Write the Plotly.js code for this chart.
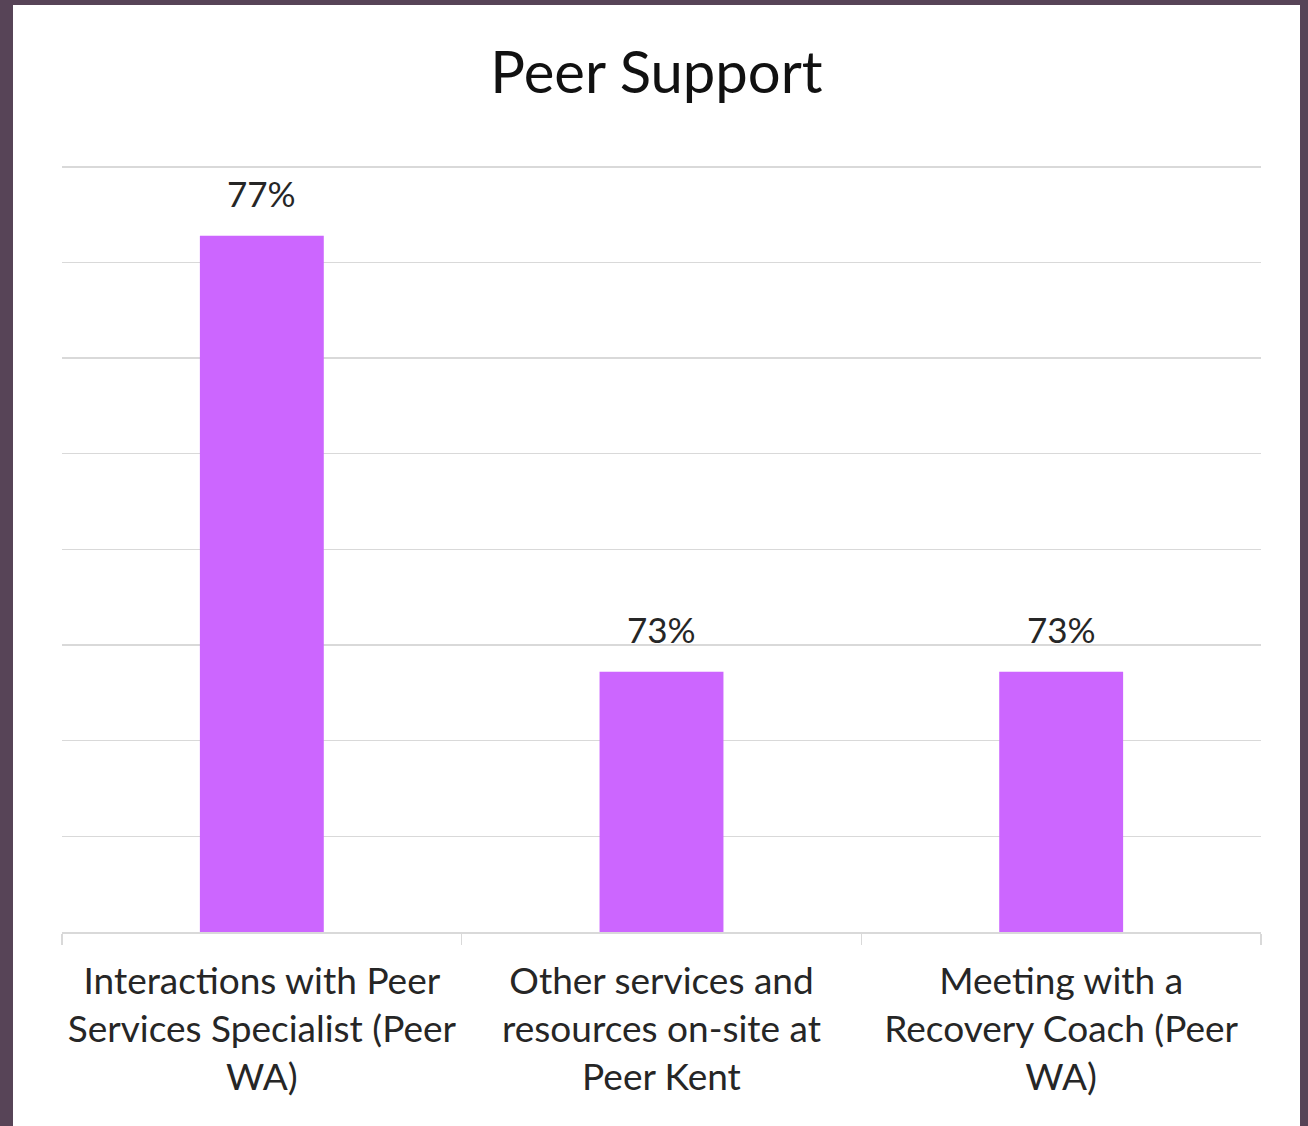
<!DOCTYPE html>
<html>
<head>
<meta charset="utf-8">
<script src="https://cdn.plot.ly/plotly-3.0.1.min.js"></script>
<style>
  html, body { margin: 0; padding: 0; background: #574457; width: 1308px; height: 1126px; overflow: hidden; }
  #chart { position: absolute; left: 13px; top: 5px; width: 1287px; height: 1121px; background: #fff; }
</style>
</head>
<body>
<div id="chart"></div>
<script>
const categories = [
  "Interactions with Peer<br>Services Specialist (Peer<br>WA)",
  "Other services and<br>resources on-site at<br>Peer Kent",
  "Meeting with a<br>Recovery Coach (Peer<br>WA)"
];
const values = [77.28, 72.72, 72.72];
const valueLabels = values.map(v => Math.round(v) + "%");
const chartTitle = "Peer Support";

const FONT = "Lato, sans-serif";

const trace = {
  type: "bar",
  x: categories,
  y: values,
  marker: { color: "#cc66ff" },
  width: 0.31,
  hoverinfo: "skip"
};

const annotations = categories.map((c, i) => ({
  x: c, y: values[i], xref: "x", yref: "y",
  text: valueLabels[i], showarrow: false,
  yanchor: "bottom", yshift: 20,
  font: { family: FONT, size: 35, color: "#262626" }
}));

const layout = {
  width: 1287, height: 1121,
  paper_bgcolor: "#ffffff", plot_bgcolor: "#ffffff",
  margin: { l: 49, r: 39, t: 157, b: 194 },
  title: {
    text: chartTitle,
    font: { family: FONT, size: 58, color: "#111111" },
    x: 0.5, xanchor: "center",
    y: 1 - 68 / 1121, yref: "container", yanchor: "middle"
  },
  showlegend: false,
  xaxis: {
    type: "category",
    showgrid: false,
    showline: true, linecolor: "#d9d9d9", linewidth: 1.5,
    ticks: "outside", tickson: "boundaries", ticklen: 11, tickcolor: "#d9d9d9", tickwidth: 1.5,
    ticklabelstandoff: 16,
    tickfont: { family: FONT, size: 37, color: "#262626" },
    fixedrange: true
  },
  yaxis: {
    range: [70, 78.05], dtick: 1, tick0: 70,
    showgrid: true, gridcolor: "#d9d9d9", gridwidth: 1.5,
    showticklabels: false, zeroline: false, showline: false, ticks: "",
    fixedrange: true
  },
  annotations: annotations
};

Plotly.newPlot("chart", [trace], layout, { displayModeBar: false, staticPlot: true });
</script>
</body>
</html>
